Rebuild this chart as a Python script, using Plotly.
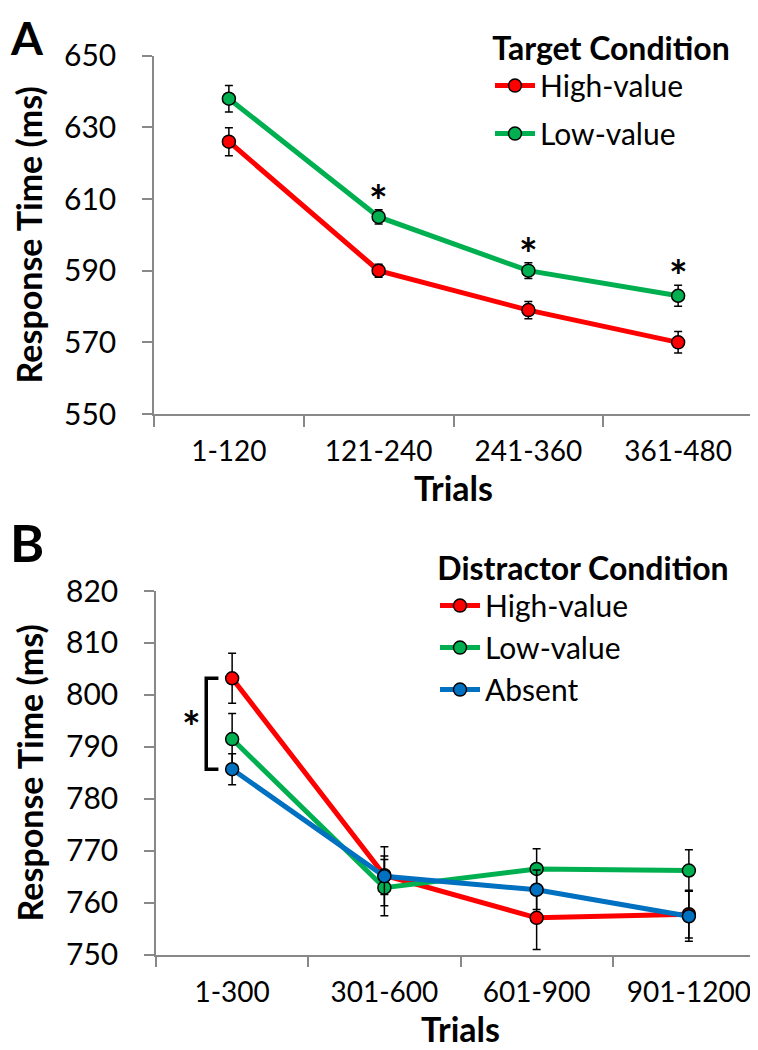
import plotly.graph_objects as go

# ---------------- data ----------------
trials_a = ["1-120", "121-240", "241-360", "361-480"]
a_high = [626, 590, 579, 570]
a_high_err = [3.9, 1.8, 2.4, 3.0]
a_low = [638, 605, 590, 583]
a_low_err = [3.7, 2.0, 2.2, 2.9]
a_sig = [False, True, True, True]

trials_b = ["1-300", "301-600", "601-900", "901-1200"]
b_high = [803.2, 765.3, 757.1, 757.8]
b_high_err = [4.8, 3.7, 6.1, 4.6]
b_low = [791.5, 762.9, 766.5, 766.2]
b_low_err = [4.9, 5.4, 3.9, 4.0]
b_abs = [785.7, 765.1, 762.5, 757.4]
b_abs_err = [3.0, 5.7, 3.8, 4.8]

RED = "#FF0000"
GREEN = "#00B050"
BLUE = "#0070C0"
AXC = "#888888"
FONT = "Lato"
W, H = 758, 1050

fig = go.Figure()


def add_series(x, y, err, name, color, xa, ya, legend, group):
    fig.add_trace(go.Scatter(
        x=x, y=y, name=name, mode="lines+markers",
        xaxis=xa, yaxis=ya, legend=legend, legendgroup=group,
        line=dict(color=color, width=5),
        marker=dict(size=13, color=color, line=dict(color="black", width=1.5)),
        error_y=dict(type="data", array=err, color="black", thickness=1.5, width=4),
    ))


add_series(trials_a, a_high, a_high_err, "High-value", RED, "x", "y", "legend", "a1")
add_series(trials_a, a_low, a_low_err, "Low-value", GREEN, "x", "y", "legend", "a2")
add_series(trials_b, b_high, b_high_err, "High-value", RED, "x2", "y2", "legend2", "b1")
add_series(trials_b, b_low, b_low_err, "Low-value", GREEN, "x2", "y2", "legend2", "b2")
add_series(trials_b, b_abs, b_abs_err, "Absent", BLUE, "x2", "y2", "legend2", "b3")

annotations = []
# significance asterisks, panel A
for cat, v, e, s in zip(trials_a, a_low, a_low_err, a_sig):
    if s:
        annotations.append(dict(x=cat, y=v + e, xref="x", yref="y", text="<b>*</b>",
                                showarrow=False, yanchor="middle", yshift=10,
                                font=dict(family=FONT, size=44, color="black")))

# bracket + asterisk, panel B (from first-bin High and Absent values)
y_top, y_bot = b_high[0], b_abs[0]
bx = -0.17
shapes = [
    dict(type="path", xref="x2", yref="y2",
         path=f"M {bx + 0.08} {y_top} L {bx} {y_top} L {bx} {y_bot} L {bx + 0.08} {y_bot}",
         line=dict(color="black", width=3.5)),
]
annotations.append(dict(x=bx - 0.1, y=(y_top + y_bot) / 2, xref="x2", yref="y2",
                        text="<b>*</b>", showarrow=False, yanchor="middle", yshift=-2,
                        font=dict(family=FONT, size=44, color="black")))

# panel letters
annotations.append(dict(x=0.0, y=1.0, xref="paper", yref="paper", text="<b>A</b>",
                        showarrow=False, xanchor="left", yanchor="top",
                        font=dict(family=FONT, size=46, color="black")))
annotations.append(dict(x=0.0, y=1 - 534 / H, xref="paper", yref="paper", text="<b>B</b>",
                        showarrow=False, xanchor="left", yanchor="middle",
                        font=dict(family=FONT, size=52, color="black")))

ytickfont = dict(family=FONT, size=30, color="black")
xtickfont = dict(family=FONT, size=28, color="black")
titlefont = dict(family=FONT, size=34, color="black")


def xaxis(domain, anchor):
    return dict(domain=domain, anchor=anchor, type="category", range=[-0.5, 3.5],
                tickson="boundaries", ticks="outside", ticklen=11, tickwidth=1.5,
                tickcolor=AXC, showline=True, linecolor=AXC, linewidth=1.5,
                showgrid=False, zeroline=False, tickfont=xtickfont, ticklabelstandoff=12,
                title=dict(text="<b>Trials</b>", font=titlefont, standoff=10),
                automargin=False)


def yaxis(domain, anchor, rng, tick0, dtick):
    return dict(domain=domain, anchor=anchor, range=rng, tick0=tick0, dtick=dtick,
                ticks="outside", ticklen=10, tickwidth=1.5, tickcolor=AXC,
                showline=True, linecolor=AXC, linewidth=1.5, showgrid=False,
                zeroline=False, tickfont=ytickfont, ticklabelstandoff=20,
                title=dict(text="<b>Response Time (ms)</b>", font=titlefont, standoff=12),
                automargin=False)


fig.update_layout(
    width=W, height=H,
    margin=dict(l=0, r=0, t=0, b=0),
    paper_bgcolor="white", plot_bgcolor="white",
    font=dict(family=FONT, color="black"),
    xaxis=xaxis([146 / W, 745 / W], "y"),
    yaxis=yaxis([1 - 406 / H, 1 - 47.7 / H], "x", [550, 650], 550, 20),
    xaxis2=xaxis([148 / W, 757 / W], "y2"),
    yaxis2=yaxis([1 - 946.7 / H, 1 - 583 / H], "x2", [750, 820], 750, 10),
    legend=dict(x=482 / W, y=1 - 10 / H, xanchor="left", yanchor="top",
                bgcolor="rgba(0,0,0,0)", itemwidth=40, tracegroupgap=6,
                font=dict(family=FONT, size=30, color="black"),
                title=dict(text="<b>Target Condition</b>", side="top center",
                           font=dict(family=FONT, size=32, color="black"))),
    legend2=dict(x=427 / W, y=1 - 530 / H, xanchor="left", yanchor="top",
                 bgcolor="rgba(0,0,0,0)", itemwidth=40, tracegroupgap=0,
                 font=dict(family=FONT, size=30, color="black"),
                 title=dict(text="<b>Distractor Condition</b>", side="top center",
                            font=dict(family=FONT, size=32, color="black"))),
    shapes=shapes,
    annotations=annotations,
    showlegend=True,
)

fig.write_html("out.html")
